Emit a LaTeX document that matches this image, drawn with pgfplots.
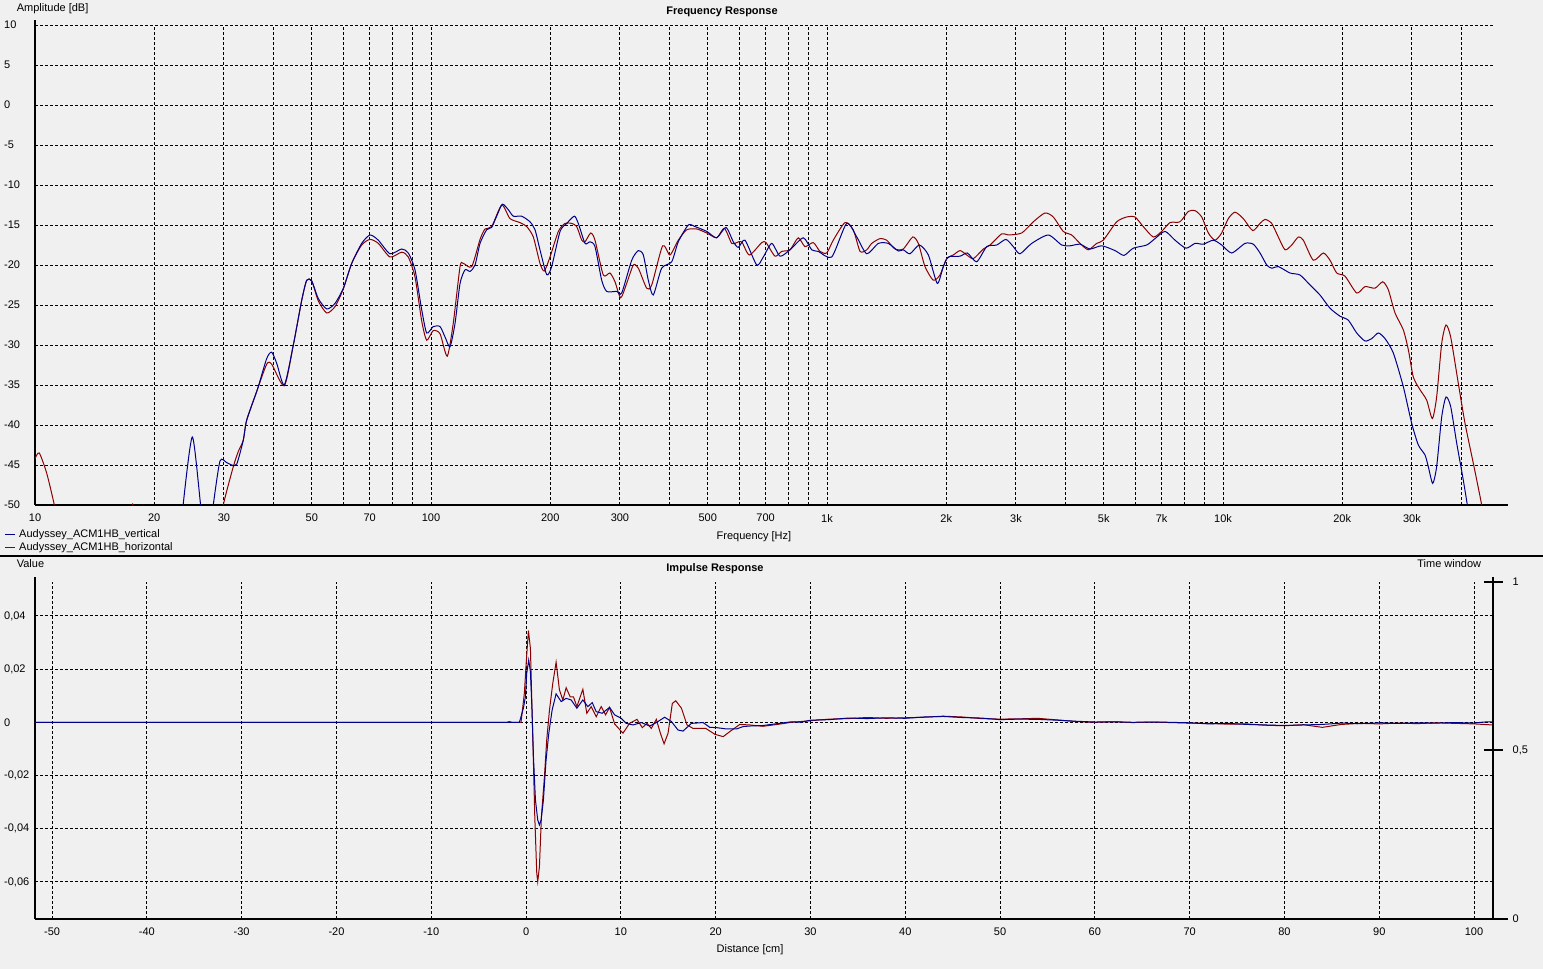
\documentclass[border=0pt]{standalone}
\usepackage{fontspec}
\setmainfont{Liberation Sans}
\usepackage{pgfplots}
\usepackage{pgfplotstable}
\pgfplotsset{compat=1.18}

\definecolor{bg}{HTML}{F0F0F0}
\definecolor{vert}{HTML}{00008B}
\definecolor{horiz}{HTML}{8B0000}

% frequency response, Hz / dB
\pgfplotstableread{
f db
23.4 -52.3
24.96 -41.5
26.5 -52
27.9 -53
28.20 -50
29.32 -44.5
30.48 -44.7
31.38 -45.0
32.31 -44.9
33.57 -41.9
34.24 -39.4
36.42 -35.6
38.47 -31.7
39.60 -30.9
40.78 -32.3
42.62 -35.0
44.91 -30.0
47.16 -24.4
48.55 -21.9
49.98 -22.0
51.94 -24.2
54.54 -25.5
57.23 -24.8
60.06 -22.9
63.06 -19.8
66.83 -17.3
70.15 -16.25
73.62 -16.9
78.80 -18.6
84.33 -18.0
87.63 -18.5
91.12 -20.6
94.74 -25.6
97.52 -28.5
101.3 -27.7
105.4 -27.7
108.5 -29.0
111.7 -30.2
115.0 -27.3
118.4 -22.3
121.9 -20.6
125.5 -20.8
129.2 -20.0
133.0 -17.3
138.2 -15.6
142.3 -15.3
146.5 -13.9
151.4 -12.4
156.8 -13.1
161.4 -13.9
169.4 -13.9
177.8 -14.6
183.1 -15.6
188.5 -18.1
196.0 -21.2
201.7 -20.2
211.8 -15.8
220.2 -14.8
230.1 -13.9
235.5 -14.8
244.9 -17.3
252.1 -17.1
259.5 -17.7
269.8 -21.9
277.8 -23.3
294.4 -23.3
303.1 -23.5
321.3 -19.4
333.9 -18.2
343.7 -18.75
353.8 -21.9
364.2 -23.75
382.4 -20.4
405.3 -19.6
421.2 -17.1
446.4 -15.0
464.2 -15.2
496.9 -15.8
526.6 -16.6
555.8 -15.3
580.0 -17.1
597.1 -17.8
620.8 -16.9
664.6 -20.0
690.5 -19.0
725.2 -17.3
761.0 -18.9
806.6 -18.1
871.2 -16.6
914.9 -18.1
950.6 -18.3
1028 -19.0
1121 -14.8
1189 -16.5
1260 -18.6
1348 -17.3
1428 -17.3
1514 -18.25
1558 -18.1
1620 -18.6
1711 -17.5
1803 -18.75
1899 -22.3
1967 -20.2
2025 -19.0
2168 -18.9
2262 -18.5
2388 -19.6
2532 -17.7
2683 -17.5
2831 -16.8
2954 -17.7
3071 -18.6
3288 -17.3
3622 -16.25
3914 -17.5
4107 -17.6
4354 -17.4
4615 -18.0
4940 -17.6
5337 -18.2
5623 -18.8
5935 -17.9
6418 -17.5
6736 -16.7
7139 -15.8
7566 -16.9
8066 -17.9
8499 -17.3
8919 -17.4
9452 -16.9
9924 -17.5
10520 -18.5
11366 -17.3
11924 -17.4
12402 -18.5
12895 -20.0
13274 -20.4
13793 -20.2
14766 -21.0
15647 -21.25
16588 -22.5
17575 -23.75
18630 -25.4
19748 -26.4
20725 -26.9
21761 -28.5
22834 -29.5
23739 -29.2
24672 -28.5
25650 -29.2
26920 -31.0
28530 -35.2
29960 -39.8
31140 -42.5
32370 -43.75
32990 -45.2
33850 -47.3
34640 -45.2
35670 -39.0
36570 -36.5
37580 -37.7
38930 -42.3
40310 -46.5
41400 -50
42500 -54
}\frvert

\pgfplotstableread{
f db
10 -44.2
10.25 -43.5
10.70 -46.0
11.19 -50.0
11.6 -54
17.2 -54
17.65 -49.8
18.1 -54
29.5 -53
29.89 -50
31.68 -45.2
32.62 -43.3
33.57 -41.9
34.24 -39.4
36.42 -35.6
38.47 -32.4
39.60 -32.4
42.62 -35.1
44.91 -30.0
47.16 -24.4
48.55 -21.9
49.98 -22.0
51.94 -24.5
54.54 -26.0
57.23 -25.2
60.06 -23.0
63.06 -19.8
66.83 -17.5
70.15 -16.8
73.62 -17.3
78.80 -19.0
84.33 -18.4
87.63 -19.0
91.12 -21.5
94.74 -27.0
97.52 -29.4
101.3 -28.2
105.4 -28.6
109.9 -31.4
113.8 -27.3
118.4 -20.2
120.7 -19.8
126.7 -20.2
133.0 -16.8
136.9 -15.5
142.3 -15.2
150.9 -12.5
158.3 -14.2
167.8 -14.7
174.5 -15.2
181.3 -16.5
188.5 -19.8
193.2 -20.75
199.8 -19.0
209.7 -15.8
218.0 -14.8
226.6 -14.8
233.3 -15.2
240.3 -16.9
244.9 -17.1
253.1 -16.0
259.5 -16.9
272.3 -21.25
283.1 -21.0
291.5 -22.1
301.3 -24.1
312.0 -22.3
324.3 -20.0
333.9 -20.4
350.5 -22.9
360.9 -22.5
384.6 -17.6
401.3 -18.75
421.2 -16.9
442.3 -15.6
468.8 -15.5
496.9 -16.0
526.6 -16.6
550.5 -15.4
574.5 -17.3
591.6 -17.2
609.0 -17.1
636.7 -18.75
684.2 -17.2
701.5 -17.2
739.2 -18.9
768.5 -18.3
806.6 -18.1
846.2 -16.6
879.8 -17.7
923.5 -17.2
960.0 -18.3
998.1 -18.5
1037 -16.9
1110 -14.7
1165 -15.6
1212 -18.3
1260 -18.1
1297 -17.3
1361 -16.7
1415 -16.9
1485 -18.0
1558 -18.0
1646 -16.5
1701 -17.3
1768 -20.2
1855 -21.9
1929 -21.25
2006 -19.2
2084 -18.75
2168 -18.2
2254 -18.75
2342 -19.2
2482 -18.0
2580 -17.5
2762 -16.1
2869 -16.25
3102 -16.0
3319 -14.6
3552 -13.5
3728 -14.0
3951 -15.8
4148 -16.25
4354 -17.3
4569 -18.1
4798 -17.3
4985 -16.9
5390 -14.6
5712 -14.0
5995 -14.0
6291 -15.2
6668 -16.5
7001 -15.8
7348 -14.7
7788 -14.6
8175 -13.3
8499 -13.2
8836 -14.0
9182 -16.0
9546 -16.9
9924 -16.0
10314 -14.2
10723 -13.4
11253 -14.2
11885 -15.7
12402 -14.8
12768 -14.3
13274 -14.8
13793 -16.5
14344 -18.1
14912 -17.5
15496 -16.5
15953 -16.9
16904 -19.4
17918 -18.5
18630 -19.4
19370 -21.0
20330 -21.4
21761 -23.5
22834 -22.7
24200 -22.9
25310 -22.1
26150 -23.1
27190 -26.0
28530 -28.1
29380 -30.6
30240 -34.0
31450 -35.6
32690 -36.9
33780 -39.2
34640 -36.5
35670 -29.8
36570 -27.5
37580 -29.0
39290 -34.8
40850 -39.8
42870 -44.8
45010 -50
46000 -53
}\frhoriz

% impulse response, cm / value
\pgfplotstableread{
d v
-51.8 0
-0.7 0
-0.28 0.0053
-0.07 0.0096
0.07 0.0184
0.28 0.0234
0.46 0.019
0.63 0.0046
0.78 -0.0129
0.99 -0.0292
1.23 -0.0367
1.41 -0.0386
1.59 -0.0367
1.83 -0.0292
2.11 -0.0142
2.40 -0.0041
2.75 0.0046
3.17 0.0107
3.70 0.0078
4.23 0.0090
4.76 0.0084
5.36 0.0053
5.99 0.0084
6.52 0.0059
6.98 0.0074
7.40 0.0040
8.03 0.0034
8.81 0.0056
9.34 0.0028
10.04 0.0015
10.57 -0.0004
11.28 -0.0010
12.16 -0.0001
13.04 -0.0014
13.74 -0.0001
14.62 0.0019
15.33 0.0003
16.03 -0.0029
16.56 -0.0033
17.44 -0.0004
18.68 -0.0001
19.38 -0.0019
20.08 -0.0020
21.14 -0.0025
22.20 -0.0025
22.90 -0.0016
23.60 -0.0014
25 -0.0012
26.5 -0.0005
28 0.0002
29 0.0
30 0.0008
32 0.0010
34 0.0016
36 0.0014
38 0.0017
40 0.0015
42 0.0020
44 0.0022
46 0.0018
48 0.0016
50 0.0010
52 0.0012
54 0.0011
56 0.0008
58 0.0004
60 0.0001
62 0.0002
64 0.0
66 0.0001
68 0.0
70 -0.0002
72 -0.0006
74 -0.0004
76 -0.0008
78 -0.0010
80 -0.0012
82 -0.0010
84 -0.0008
86 -0.0003
88 -0.0005
90 -0.0002
92 -0.0004
94 -0.0002
96 -0.0003
98 -0.0001
100 -0.0003
101 0.0001
102 0.0002
}\irvert

\pgfplotstableread{
d v
-51.8 0
-2.0 0
-1.76 0.0003
-1.5 0
-0.53 0
-0.18 0.0109
0.07 0.0253
0.25 0.0345
0.46 0.0278
0.63 0.0046
0.78 -0.0154
0.92 -0.0355
1.13 -0.0568
1.23 -0.0599
1.41 -0.0543
1.62 -0.0355
1.94 -0.0204
2.18 -0.0066
2.47 0.0046
2.82 0.0147
3.17 0.0226
3.52 0.0122
3.88 0.0084
4.23 0.0130
4.65 0.0096
5.00 0.0096
5.36 0.0059
5.99 0.0124
6.41 0.0034
6.87 0.0059
7.40 0.0021
7.93 0.0059
8.39 0.0028
8.81 0.0056
9.34 -0.0006
10.22 -0.0041
10.92 -0.0004
11.70 0.0011
12.26 -0.0020
12.76 -0.0004
13.21 -0.0023
13.74 0.0011
14.17 -0.0041
14.56 -0.0081
14.98 -0.0041
15.43 0.0071
15.79 0.0081
16.39 0.0053
16.98 -0.0010
17.62 -0.0023
18.39 -0.0023
18.96 -0.0023
19.91 -0.0045
20.79 -0.0054
21.49 -0.0035
22.55 -0.0008
23.60 -0.0010
25 -0.0015
26.5 -0.0008
28 0.0
29 0.0003
30 0.0006
32 0.0012
34 0.0014
36 0.0018
38 0.0015
40 0.0017
42 0.0019
44 0.0023
46 0.0020
48 0.0014
50 0.0012
52 0.0013
54 0.0015
56 0.0009
58 0.0003
60 0.0
62 0.0002
64 -0.0001
66 0.0001
68 -0.0001
70 -0.0003
72 -0.0004
74 -0.0007
76 -0.0006
78 -0.0011
80 -0.0013
82 -0.0009
84 -0.0019
86 -0.0008
88 -0.0004
90 -0.0006
92 -0.0003
94 -0.0005
96 -0.0002
98 -0.0004
100 -0.0006
102 -0.0010
}\irhoriz

\pgfplotsset{
  panel/.style={
    scale only axis, width=1458pt,
    axis lines=left,
    x axis line style={-, line width=2pt, shorten >=-14.5pt},
    y axis line style={-, line width=2pt, shorten >=-5pt},
    grid=major,
    major grid style={black, line width=0.9pt, dash pattern=on 3pt off 2pt},
    major tick length=0pt,
    tick style={draw=none},
    scaled ticks=false,
    xticklabel style={inner sep=0pt, yshift=-9pt},
    yticklabel style={anchor=west, inner sep=0pt, xshift=-31pt},
    every axis title/.style={font=\bfseries, anchor=center},
    every axis x label/.style={anchor=center},
    every axis y label/.style={anchor=west},
    every axis plot/.append style={line width=1pt, mark=none},
  }
}

\begin{document}
\fontsize{11pt}{13pt}\selectfont
\begin{tikzpicture}
\fill[bg] (0pt,0pt) rectangle (1543pt,969pt);
\path[use as bounding box] (0pt,0pt) rectangle (1543pt,969pt);

% ---- frequency response
\begin{axis}[panel,
    at={(35pt,464pt)}, anchor=south west, height=480pt,
    xmode=log, xmin=10, xmax=48070, ymin=-50, ymax=10,
    xtick={10,20,30,40,50,60,70,80,90,100,200,300,400,500,600,700,800,900,
           1000,2000,3000,4000,5000,6000,7000,8000,9000,10000,20000,30000,40000},
    xticklabels={10,20,30,,50,,70,,,100,200,300,,500,,700,,,
                 1k,2k,3k,,5k,,7k,,,10k,20k,30k,{}},
    ytick={-50,-45,-40,-35,-30,-25,-20,-15,-10,-5,0,5,10},
    yticklabels={-50,-45,-40,-35,-30,-25,-20,-15,-10,-5,0,5,10},
    title={Frequency Response}, title style={at={(0.4712,1.0271)}},
    xlabel={Frequency [Hz]}, xlabel style={at={(0.4931,-0.0667)}},
    ylabel={Amplitude [dB]}, ylabel style={at={(-0.0151,1.0344)}},
  ]
  \addplot[horiz, smooth, tension=0.4] table[x=f, y=db] {\frhoriz};
  \addplot[vert, smooth, tension=0.4] table[x=f, y=db] {\frvert};
\end{axis}

% legend
\draw[vert, line width=1pt] (5pt,434pt) -- (15pt,434pt);
\node[anchor=west, inner sep=0pt] at (19pt,434pt) {Audyssey\_ACM1HB\_vertical};
\draw[horiz, line width=1pt] (5pt,421pt) -- (15pt,421pt);
\node[anchor=west, inner sep=0pt] at (19pt,421pt) {Audyssey\_ACM1HB\_horizontal};

\draw[line width=2pt] (0pt,413pt) -- (1543pt,413pt);

% ---- impulse response
\begin{axis}[panel,
    at={(35pt,50pt)}, anchor=south west, height=337.3pt,
    xmin=-51.8, xmax=102, ymin=-0.07396, ymax=0.05287,
    xtick={-50,-40,-30,-20,-10,0,10,20,30,40,50,60,70,80,90,100},
    xticklabels={-50,-40,-30,-20,-10,0,10,20,30,40,50,60,70,80,90,100},
    ytick={-0.06,-0.04,-0.02,0,0.02,0.04},
    yticklabels={{-0,06},{-0,04},{-0,02},0,{0,02},{0,04}},
    title={Impulse Response}, title style={at={(0.4664,1.0377)}},
    xlabel={Distance [cm]}, xlabel style={at={(0.4904,-0.0919)}},
    ylabel={Value}, ylabel style={at={(-0.0151,1.0525)}},
  ]
  \addplot[horiz] table[x=d, y=v] {\irhoriz};
  \addplot[vert] table[x=d, y=v] {\irvert};
\end{axis}

% time window scale
\begin{axis}[scale only axis, width=1458pt, height=337.3pt,
    at={(35pt,50pt)}, anchor=south west,
    xmin=0, xmax=1, ymin=0, ymax=1,
    axis x line=none, axis y line=right,
    y axis line style={-, line width=2pt, shorten >=-5pt},
    ytick={0,0.5,1}, yticklabels={0,{0,5},1},
    scaled ticks=false,
    major tick length=19pt, tick align=center,
    ytick style={line width=2pt, black},
    yticklabel style={anchor=west, inner sep=0pt, xshift=10pt},
    ylabel={Time window},
    every axis y label/.style={at={(0.9945,1.0525)}, anchor=east},
  ]
\end{axis}
\end{tikzpicture}
\end{document}
